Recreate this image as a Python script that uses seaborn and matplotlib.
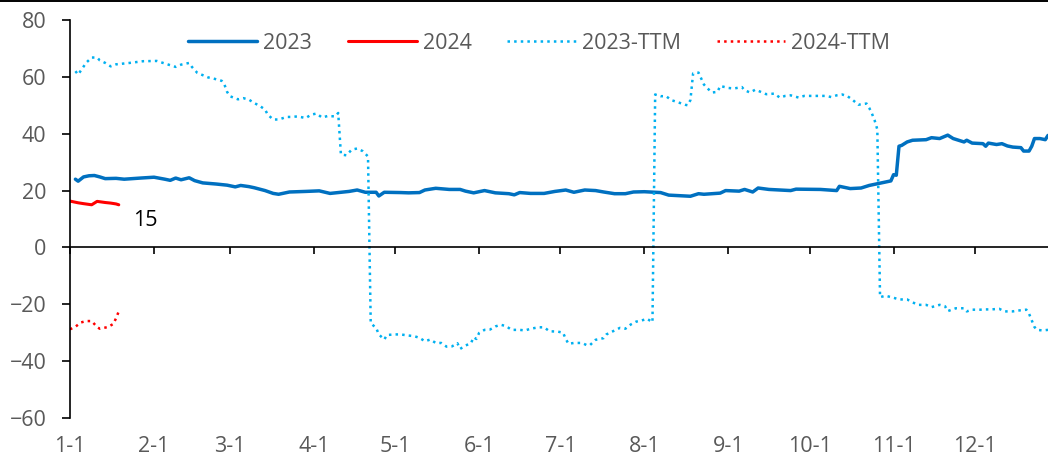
import matplotlib
matplotlib.use("Agg")
import matplotlib.pyplot as plt
from matplotlib.lines import Line2D
import pandas as pd
import seaborn as sns

# x positions are day-of-year offsets (0 = Jan 1)
day_2023 = [2, 3, 5, 7, 9, 11, 13, 17, 20, 26,
            31, 35, 37, 39, 41, 44, 46, 49, 54, 58,
            61, 63, 66, 68, 72, 75, 77, 81, 87, 92,
            96, 100, 103, 106, 109, 113, 114, 116, 122, 125,
            129, 131, 135, 140, 144, 146, 149, 153, 157, 162,
            164, 166, 170, 175, 179, 183, 186, 190, 194, 197,
            201, 205, 208, 212, 218, 221, 229, 232, 234, 240,
            242, 247, 249, 252, 254, 258, 266, 268, 277, 283,
            284, 288, 292, 295, 298, 303, 304, 305, 306, 307,
            309, 311, 316, 318, 321, 324, 326, 328, 330, 331,
            333, 337, 338, 339, 342, 344, 346, 348, 351, 352,
            354, 355, 356, 358, 360, 361]
val_2023 = [24.0, 23.3, 24.8, 25.2, 25.3, 24.8, 24.2, 24.3, 24.0, 24.4,
            24.7, 24.0, 23.6, 24.4, 23.8, 24.5, 23.5, 22.7, 22.3, 21.9,
            21.3, 21.8, 21.4, 21.0, 20.0, 19.0, 18.7, 19.5, 19.7, 19.9,
            19.0, 19.4, 19.7, 20.2, 19.4, 19.4, 18.1, 19.4, 19.3, 19.2,
            19.3, 20.2, 20.8, 20.4, 20.4, 19.8, 19.2, 20.0, 19.2, 18.9,
            18.5, 19.3, 19.0, 19.0, 19.7, 20.2, 19.4, 20.2, 20.0, 19.5,
            18.9, 18.9, 19.5, 19.6, 19.3, 18.4, 18.0, 18.9, 18.7, 19.1,
            20.0, 19.8, 20.4, 19.5, 20.9, 20.4, 20.0, 20.5, 20.4, 20.0,
            21.5, 20.7, 20.9, 21.8, 22.4, 23.4, 25.6, 25.4, 35.6, 35.9,
            37.1, 37.7, 37.9, 38.6, 38.3, 39.5, 38.3, 37.7, 37.1, 37.7,
            36.7, 36.5, 35.6, 36.7, 36.2, 36.5, 35.7, 35.3, 35.1, 33.9,
            33.9, 35.6, 38.3, 38.3, 37.9, 39.4]

day_2024 = [0, 3, 5, 8, 10, 13, 15, 17, 18]
val_2024 = [16.3, 15.7, 15.4, 15.0, 16.2, 15.8, 15.6, 15.3, 15.0]

day_2023_ttm = [2, 3, 6, 8, 10, 11, 13, 15, 17, 22,
                27, 32, 34, 37, 39, 41, 44, 45, 47, 51,
                53, 56, 57, 58, 59, 62, 64, 66, 68, 70,
                72, 73, 75, 77, 80, 82, 84, 87, 89, 91,
                93, 95, 98, 99, 100, 102, 104, 106, 108, 110,
                111, 112, 113, 114, 116, 117, 120, 122, 125, 127,
                129, 131, 133, 135, 137, 139, 141, 143, 144, 146,
                148, 149, 150, 151, 153, 155, 157, 159, 161, 163,
                166, 168, 170, 173, 175, 177, 180, 182, 183, 184,
                186, 189, 191, 192, 194, 197, 198, 201, 203, 205,
                207, 209, 211, 213, 215, 216, 218, 220, 222, 224,
                227, 228, 229, 230, 232, 233, 234, 235, 237, 239,
                240, 243, 245, 248, 249, 251, 253, 255, 257, 260,
                262, 264, 266, 269, 271, 274, 276, 279, 281, 283,
                285, 287, 289, 291, 294, 295, 296, 297, 298, 299,
                301, 304, 306, 309, 311, 313, 316, 318, 321, 323,
                324, 327, 330, 331, 333, 336, 338, 340, 343, 345,
                348, 350, 353, 354, 355, 356, 357, 359, 361]
val_2023_ttm = [62.0, 60.8, 65.0, 66.8, 66.8, 65.8, 64.9, 63.7, 64.4, 64.9,
                65.5, 65.6, 65.0, 64.1, 63.5, 64.3, 64.9, 63.5, 61.4, 59.8,
                59.4, 58.6, 57.3, 54.7, 53.2, 52.1, 52.5, 52.0, 50.8, 49.8,
                48.5, 46.7, 45.0, 45.0, 45.9, 45.9, 46.1, 45.5, 46.7, 47.1,
                45.7, 46.2, 46.1, 47.3, 32.7, 32.4, 34.4, 34.8, 33.9, 32.0,
                -26.6, -27.5, -28.3, -30.6, -32.4, -30.8, -30.6, -30.6, -31.0, -31.2,
                -31.8, -33.0, -32.4, -33.6, -33.6, -34.9, -34.8, -33.7, -35.7, -34.5,
                -33.7, -31.6, -32.2, -30.1, -29.0, -28.9, -27.8, -27.2, -27.7, -29.0,
                -29.0, -29.2, -28.6, -28.1, -28.1, -29.5, -29.6, -30.0, -32.2, -33.9,
                -33.6, -33.6, -34.5, -34.3, -32.5, -31.9, -30.6, -29.2, -28.3, -28.6,
                -27.1, -26.1, -25.7, -25.1, -26.3, 53.8, 53.2, 53.2, 51.8, 51.2,
                50.2, 50.0, 51.8, 61.2, 61.5, 59.4, 57.3, 56.2, 54.5, 54.7,
                56.8, 56.1, 55.9, 56.4, 55.3, 54.5, 55.5, 54.7, 53.9, 54.1,
                52.7, 53.3, 53.5, 52.7, 53.3, 53.3, 53.3, 53.3, 52.9, 53.5,
                53.8, 53.2, 51.8, 50.2, 50.6, 49.1, 47.1, 44.7, 41.5, -17.5,
                -17.0, -17.7, -18.3, -18.3, -19.3, -20.2, -20.2, -21.0, -20.2, -20.7,
                -22.4, -21.4, -21.4, -22.5, -21.9, -21.9, -21.8, -21.8, -21.6, -22.5,
                -22.5, -22.2, -21.9, -23.3, -25.7, -28.0, -29.0, -29.2, -29.0]

day_2024_ttm = [0, 2, 4, 6, 8, 10, 11, 14, 16, 17, 18]
val_2024_ttm = [-28.8, -27.9, -26.4, -25.9, -25.9, -28.0, -28.6, -28.0, -26.9, -24.9, -22.5]

month_start_days = [0, 31, 59, 90, 120, 151, 181, 212, 243, 273, 304, 334]
month_labels = ["1-1", "2-1", "3-1", "4-1", "5-1", "6-1",
                "7-1", "8-1", "9-1", "10-1", "11-1", "12-1"]
y_ticks = [-60, -40, -20, 0, 20, 40, 60, 80]

sns.set_style("white")
plt.rcParams["font.family"] = ["Open Sans", "DejaVu Sans"]

TEXT = "#595959"
FS = 15.5

fig = plt.figure(figsize=(10.48, 4.57), dpi=100)
ax = fig.add_axes([70 / 1048, 1 - 418 / 457, 978 / 1048, 398 / 457])

series = [
    ("2023", day_2023, val_2023, "#0070C0", "-", 2.5),
    ("2024", day_2024, val_2024, "#FF0000", "-", 2.2),
    ("2023-TTM", day_2023_ttm, val_2023_ttm, "#00B0F0", ":", 1.8),
    ("2024-TTM", day_2024_ttm, val_2024_ttm, "#FF0000", ":", 1.8),
]
for name, days, vals, color, ls, lw in series:
    df = pd.DataFrame({"day": days, "value": vals})
    sns.lineplot(data=df, x="day", y="value", ax=ax, color=color,
                 linestyle=ls, linewidth=lw, label=name)

# closing value of the current year
ax.annotate(f"{val_2024[-1]:.0f}", xy=(day_2024[-1], val_2024[-1]),
            xytext=(10, -11), textcoords="offset points",
            ha="left", va="center", fontsize=FS, color="black")

ax.set_xlim(0, 361)
ax.set_ylim(-60, 80)
ax.set_xlabel("")
ax.set_ylabel("")

for s in ("top", "right"):
    ax.spines[s].set_visible(False)
ax.spines["left"].set_color("black")
ax.spines["left"].set_linewidth(1.2)
ax.spines["bottom"].set_position(("data", 0))
ax.spines["bottom"].set_color("black")
ax.spines["bottom"].set_linewidth(1.2)

ax.set_yticks(y_ticks)
ax.tick_params(axis="y", direction="out", length=6, width=1.2, color="black",
               labelsize=FS, labelcolor=TEXT, pad=11, left=True)
ax.set_xticks(month_start_days)
ax.tick_params(axis="x", direction="out", length=5, width=1.2, color="black",
               labelbottom=False, bottom=True)

sec = ax.secondary_xaxis("bottom")
sec.set_xticks(month_start_days, labels=month_labels)
sec.tick_params(axis="x", length=0, pad=13, labelsize=FS, labelcolor=TEXT)
sec.spines["bottom"].set_visible(False)

leg = ax.legend(loc="center", bbox_to_anchor=(0.48, 0.942), ncol=4,
                frameon=False, fontsize=FS, handlelength=3.2,
                handletextpad=0.28, columnspacing=1.65, borderaxespad=0)
for t in leg.get_texts():
    t.set_color(TEXT)

fig.add_artist(Line2D([0, 1], [0.997, 0.997], transform=fig.transFigure,
                      color="black", linewidth=1.4))

fig.savefig("out.png", dpi=100)
